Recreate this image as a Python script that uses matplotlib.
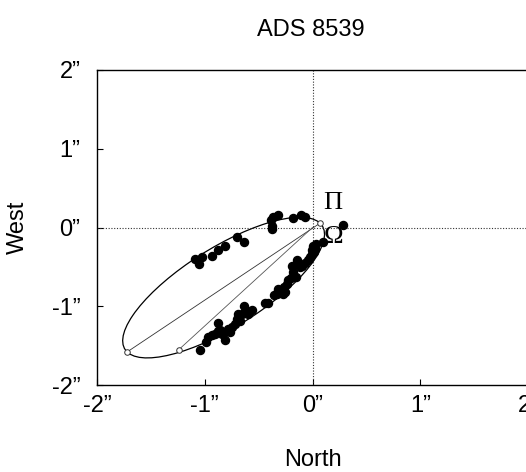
import numpy as np
import matplotlib
matplotlib.use("Agg")
import matplotlib.pyplot as plt
from matplotlib.patches import Ellipse

plt.rcParams['font.family'] = ['Liberation Sans Narrow', 'Liberation Sans', 'DejaVu Sans']

# observed positions (arcsec): north on x, west on y
north = [-1.090, -1.053, -1.028, -0.929, -0.873, -0.812, -0.704, -0.633, -0.386, -0.380,
         -0.380, -0.364, -0.324, -0.179, -0.108, -0.071,
         0.284, 0.093, 0.006, 0.022, 0.015, -0.009, -0.025, -0.046, -0.071, -0.102,
         -0.117, -0.194, -0.179, -0.157, -0.201, -0.225, -0.241, -0.262, -0.256, -0.287,
         -0.318, -0.333, -0.355, -0.272, -0.318, -0.441, -0.410, -0.565, -0.596, -0.633,
         -0.620, -0.657, -0.688, -0.704, -0.673, -0.719, -0.750, -0.781, -0.812, -0.766,
         -0.880, -0.873, -0.904, -0.935, -0.966, -0.991, -0.812, -1.043, -0.843, -0.858,
         0.037, -0.009, -0.148]
west = [-0.398, -0.461, -0.377, -0.368, -0.292, -0.237, -0.123, -0.187, 0.089, 0.025,
        -0.025, 0.131, 0.161, 0.123, 0.165, 0.131,
        0.038, -0.187, -0.229, -0.271, -0.313, -0.334, -0.377, -0.419, -0.453, -0.483,
        -0.504, -0.483, -0.567, -0.631, -0.639, -0.673, -0.715, -0.758, -0.821, -0.800,
        -0.800, -0.842, -0.863, -0.842, -0.779, -0.961, -0.961, -1.045, -1.096, -1.003,
        -1.054, -1.096, -1.096, -1.160, -1.181, -1.223, -1.266, -1.287, -1.329, -1.329,
        -1.215, -1.308, -1.350, -1.371, -1.392, -1.456, -1.426, -1.553, -1.350, -1.300,
        -0.207, -0.292, -0.419]

# apparent orbit
orbit_center = (-0.825, -0.763)
orbit_major = 2.426
orbit_minor = 0.902
orbit_angle = 43.2

periastron = (0.07, 0.055)
apastron = (-1.72, -1.58)
node = (-1.24, -1.55)
origin = (0.0, 0.0)

ticks = [-2, -1, 0, 1, 2]
tick_labels = ['-2\u201d', '-1\u201d', '0\u201d', '1\u201d', '2\u201d']

fig = plt.figure(figsize=(5.26, 4.72), dpi=100)
ax = fig.add_axes([97/526, 1-385/472, 431/526, 315/472])

ax.axhline(0, color='#333333', lw=0.8, ls=(0, (1, 1.5)))
ax.axvline(0, color='#333333', lw=0.8, ls=(0, (1, 1.5)))

ax.add_patch(Ellipse(orbit_center, orbit_major, orbit_minor, angle=orbit_angle,
                     fill=False, ec='black', lw=0.9))
ax.plot([periastron[0], apastron[0]], [periastron[1], apastron[1]], color='#333333', lw=0.6)
ax.plot([origin[0], node[0]], [origin[1], node[1]], color='#555555', lw=0.6)

ax.plot(north, west, 'o', color='black', ms=5.8, mec='black')
ax.plot([periastron[0], apastron[0], node[0]], [periastron[1], apastron[1], node[1]],
        'o', mfc='white', mec='#333333', ms=4, mew=0.7)

ax.text(0.19, 0.31, '\u03a0', family=['Liberation Serif', 'DejaVu Serif'], fontsize=19,
        ha='center', va='center')
ax.text(0.195, -0.12, '\u03a9', family=['Liberation Serif', 'DejaVu Serif'], fontsize=19,
        ha='center', va='center')

ax.set_xlim(-2, 2)
ax.set_ylim(-2, 2)
ax.set_xticks(ticks)
ax.set_xticklabels(tick_labels)
ax.set_yticks(ticks)
ax.set_yticklabels(tick_labels)
ax.tick_params(direction='in', length=4, width=0.8, labelsize=17)
ax.tick_params(axis='y', pad=12)
ax.tick_params(axis='x', pad=7)

ax.spines['left'].set_linewidth(1.0)
for s in ['top', 'bottom']:
    ax.spines[s].set_linestyle((0, (1, 1)))
    ax.spines[s].set_linewidth(1.0)
ax.spines['right'].set_visible(False)

fig.text(311/526, 1-30/472, 'ADS 8539', ha='center', va='center', fontsize=17)
fig.text(313/526, 1-460/472, 'North', ha='center', va='center', fontsize=17)
fig.text(18/526, 1-227/472, 'West', ha='center', va='center', fontsize=17, rotation=90)

fig.savefig('out.png', dpi=100)
